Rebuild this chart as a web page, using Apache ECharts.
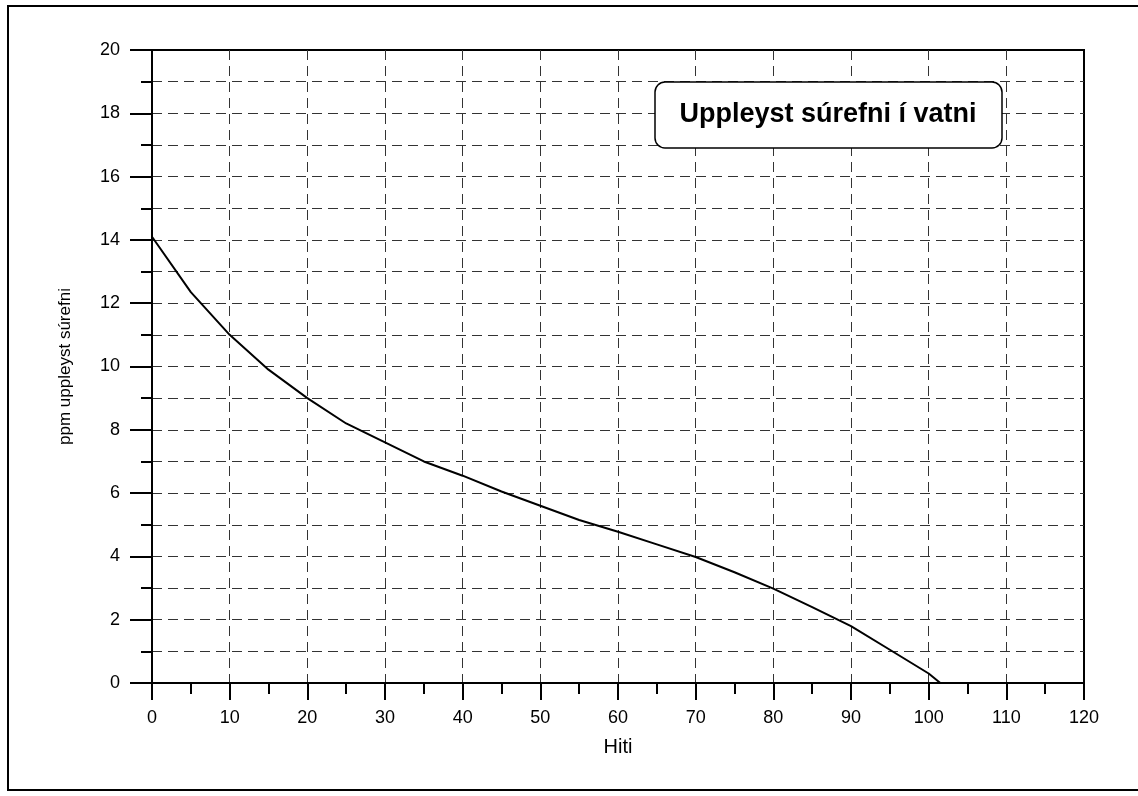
<!DOCTYPE html>
<html>
<head>
<meta charset="utf-8">
<script src="https://cdn.jsdelivr.net/npm/echarts@6/dist/echarts.min.js"></script>
<style>
  html, body { margin: 0; padding: 0; background: #fff; }
  #chart { width: 1138px; height: 796px; }
</style>
</head>
<body>
<div id="chart"></div>
<script>
// Dissolved oxygen (ppm) against water temperature
const temperature = [0, 5, 10, 15, 20, 25, 30, 35, 40, 45, 50, 55, 60, 65, 70, 75, 80, 85, 90, 95, 100, 101.5];
const oxygenPpm   = [14.1, 12.35, 11.0, 9.9, 9.0, 8.2, 7.6, 7.0, 6.55, 6.05, 5.6, 5.15, 4.78, 4.38, 3.98, 3.5, 2.98, 2.4, 1.8, 1.05, 0.3, 0];

const chartTitle = 'Uppleyst súrefni í vatni';
const xName = 'Hiti';
const yName = 'ppm uppleyst súrefni';

const FONT = '"Liberation Sans", Arial, sans-serif';
const dashed = { color: '#333', width: 1, type: [10, 6] };

const chart = echarts.init(document.getElementById('chart'), null, { renderer: 'canvas' });

chart.setOption({
  animation: false,
  backgroundColor: '#fff',
  grid: {
    left: 152, right: 54, top: 50, bottom: 113,
    containLabel: false,
    outerBoundsMode: 'none',
    show: true,
    borderColor: '#000',
    borderWidth: 2,
    backgroundColor: 'transparent'
  },
  xAxis: {
    type: 'value',
    min: 0, max: 120, interval: 10,
    name: xName,
    nameLocation: 'middle',
    nameGap: 54,
    nameTextStyle: { color: '#000', fontFamily: FONT, fontSize: 20 },
    axisLine: { show: true, onZero: false, lineStyle: { color: '#000', width: 2 } },
    axisTick: { show: true, length: 17, lineStyle: { color: '#000', width: 2 } },
    minorTick: { show: true, splitNumber: 2, length: 11, lineStyle: { color: '#000', width: 2 } },
    axisLabel: { color: '#000', fontFamily: FONT, fontSize: 18, margin: 26 },
    splitLine: { show: true, showMinLine: false, showMaxLine: false, lineStyle: dashed },
    minorSplitLine: { show: false }
  },
  yAxis: {
    type: 'value',
    min: 0, max: 20, interval: 2,
    name: yName,
    nameLocation: 'middle',
    nameGap: 78,
    nameRotate: 90,
    nameTextStyle: { color: '#000', fontFamily: FONT, fontSize: 17 },
    axisLine: { show: true, onZero: false, lineStyle: { color: '#000', width: 2 } },
    axisTick: { show: true, length: 22, lineStyle: { color: '#000', width: 2 } },
    minorTick: { show: true, splitNumber: 2, length: 11, lineStyle: { color: '#000', width: 2 } },
    axisLabel: { color: '#000', fontFamily: FONT, fontSize: 18, margin: 32 },
    splitLine: { show: true, showMinLine: false, showMaxLine: false, lineStyle: dashed },
    minorSplitLine: { show: true, lineStyle: dashed }
  },
  series: [{
    type: 'line',
    data: temperature.map((t, i) => [t, oxygenPpm[i]]),
    showSymbol: false,
    smooth: false,
    lineStyle: { color: '#000', width: 2 },
    z: 5
  }],
  graphic: [
    {
      type: 'rect',
      silent: true,
      shape: { x: 8, y: 6, width: 1140, height: 784 },
      style: { fill: 'none', stroke: '#000', lineWidth: 2 },
      z: 100
    },
    {
      type: 'rect',
      silent: true,
      shape: { x: 655, y: 82, width: 347, height: 66, r: 10 },
      style: { fill: '#fff', stroke: '#000', lineWidth: 1.5 },
      z: 100
    },
    {
      type: 'text',
      silent: true,
      x: 828, y: 115,
      style: {
        text: chartTitle,
        fill: '#000',
        font: 'bold 27px ' + FONT,
        align: 'center',
        verticalAlign: 'middle'
      },
      z: 101
    }
  ]
});
</script>
</body>
</html>
